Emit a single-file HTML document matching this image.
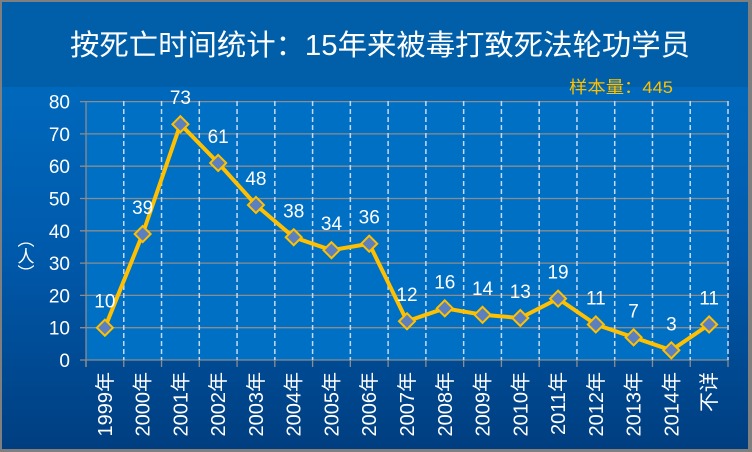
<!DOCTYPE html>
<html><head><meta charset="utf-8"><style>
html,body{margin:0;padding:0;width:752px;height:452px;overflow:hidden;background:#7f7f7f}
svg{display:block}
text{font-family:"Liberation Sans","Noto Sans CJK SC",sans-serif}
</style></head><body>
<svg id="c" width="752" height="452" xmlns="http://www.w3.org/2000/svg">
<defs>
<linearGradient id="bg" x1="0" y1="0" x2="0" y2="1">
<stop offset="0" stop-color="#0070c4"/><stop offset="0.55" stop-color="#005aac"/><stop offset="1" stop-color="#003e80"/>
</linearGradient>
</defs>
<rect x="2" y="2" width="746" height="447" fill="url(#bg)"/>
<rect x="2" y="2" width="746" height="85" fill="#005fa8"/>
<rect x="86" y="101" width="642" height="259" fill="#0070c4"/>
<text x="380" y="55" fill="#fff" font-size="29" text-anchor="middle" textLength="620" lengthAdjust="spacingAndGlyphs">按死亡时间统计：15年来被毒打致死法轮功学员</text>
<text x="569" y="93" fill="#ffc000" font-size="17" textLength="104" lengthAdjust="spacingAndGlyphs">样本量：445</text>
<text x="24" y="256" fill="#fff" font-size="17" text-anchor="middle" writing-mode="tb">（人）</text>
<g id="g"></g>
</svg>
<script>
var g=document.getElementById('g'),h='';
var d=[10,39,73,61,48,38,34,36,12,16,14,13,19,11,7,3,11];
var labs=['1999年','2000年','2001年','2002年','2003年','2004年','2005年','2006年','2007年','2008年','2009年','2010年','2011年','2012年','2013年','2014年','不详'];
var x0=86,x1=728,w=(x1-x0)/17,y0=360,s=3.23;
for(var v=0;v<=80;v+=10){var y=y0-v*s;h+='<line x1="80" x2="728" y1="'+y+'" y2="'+y+'" stroke="#8c8c8c" stroke-width="1.3"/>';
h+='<text x="70" y="'+(y+7)+'" fill="#fff" font-size="19" text-anchor="end">'+v+'</text>';}
for(var i=1;i<=17;i++){var x=x0+i*w;h+='<line x1="'+x+'" x2="'+x+'" y1="101" y2="360" stroke="#c8d8f0" stroke-width="1.5" stroke-dasharray="5,3"/>';}
for(var i=0;i<=17;i++){var x=x0+i*w;h+='<line x1="'+x+'" x2="'+x+'" y1="360" y2="367" stroke="#8c8c8c" stroke-width="1.3"/>';}
h+='<line x1="86" x2="86" y1="101" y2="367" stroke="#8c8c8c" stroke-width="1.3"/>';
var pts=[];for(var i=0;i<17;i++){pts.push([x0+w*(i+.5),y0-d[i]*s]);}
h+='<polyline points="'+pts.map(function(p){return p.join(',')}).join(' ')+'" fill="none" stroke="#ffc000" stroke-width="4" stroke-linejoin="round"/>';
for(var i=0;i<17;i++){var p=pts[i];
h+='<polygon points="'+p[0]+','+(p[1]-8)+' '+(p[0]+8)+','+p[1]+' '+p[0]+','+(p[1]+8)+' '+(p[0]-8)+','+p[1]+'" fill="#5b7fbf" stroke="#ffc000" stroke-width="2"/>';
h+='<text x="'+p[0]+'" y="'+(p[1]-20)+'" fill="#fff" font-size="19" text-anchor="middle">'+d[i]+'</text>';
h+='<text transform="translate('+(p[0]+7)+',372) rotate(-90)" fill="#fff" font-size="20" text-anchor="end">'+labs[i]+'</text>';}
g.innerHTML=h;
</script>
</body></html>
